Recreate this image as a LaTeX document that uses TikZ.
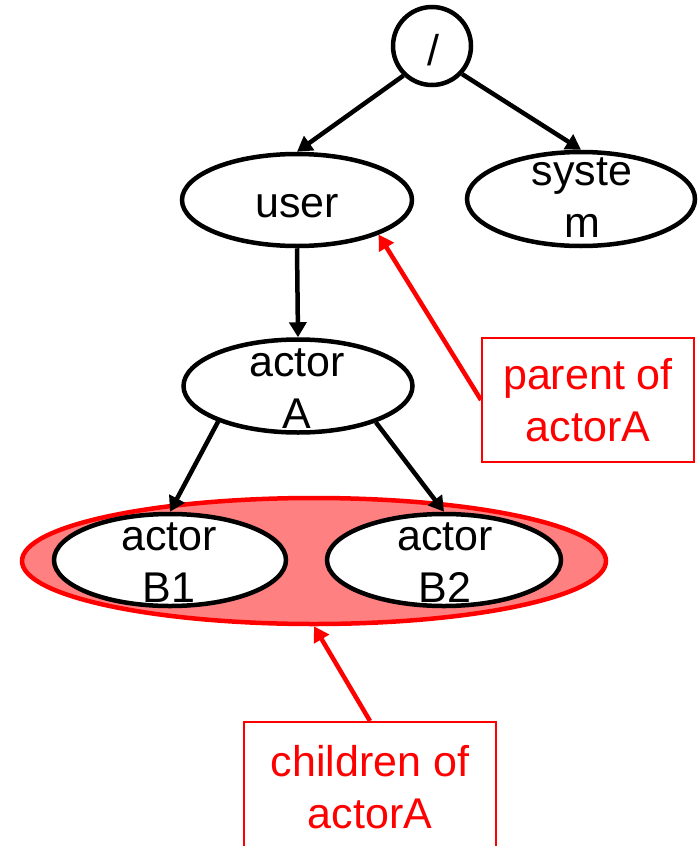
\documentclass[tikz,border=0pt]{standalone}
\usepackage{fontspec}
\setmainfont{Liberation Sans}
\usetikzlibrary{shapes.geometric,arrows.meta}
\definecolor{hlred}{HTML}{FF0000}
\definecolor{hlfill}{HTML}{FF8080}
\tikzset{
  lbl/.style={font=\fontsize{43}{52}\selectfont, align=center, inner sep=0pt},
  dirnode/.style={ellipse, draw=black, line width=4.5pt, fill=white, inner sep=0pt},
  arr/.style={line width=4.5pt, -{Triangle[length=15pt,width=17pt]}},
  redarr/.style={line width=4.5pt, draw=hlred, -{Triangle[length=15pt,width=17pt]}, color=hlred},
  notebox/.style={rectangle, draw=hlred, line width=2pt, text=hlred, fill=white,
    font=\fontsize{43}{52}\selectfont, align=center, inner sep=0pt},
}
\begin{document}
\begin{tikzpicture}[x=1pt,y=-1pt]
\useasboundingbox (0,0) rectangle (698,846);

% root directory
\node[circle, draw=black, line width=4.5pt, fill=white, minimum size=78pt, inner sep=0pt] (root) at (432,46) {};
\node[lbl] (roott) at (433,50) {/};

% first level
\node[dirnode, minimum width=230pt, minimum height=92pt] (user) at (297,200) {};
\node[lbl] (usert) at (297,206) {user};
\node[dirnode, minimum width=228pt, minimum height=94pt] (system) at (581,199) {};
\node[lbl] (systemt) at (582,198) {syste\\m};

% actor A
\node[dirnode, minimum width=229pt, minimum height=93pt] (actA) at (298,386) {};
\node[lbl] (actAt) at (297,389) {actor\\A};

% highlighted group of children
\node[ellipse, draw=hlred, fill=hlfill, line width=4.5pt, minimum width=584pt, minimum height=126pt, inner sep=0pt] (kids) at (314,561) {};
\node[dirnode, minimum width=232pt, minimum height=92pt] (b1) at (170,560) {};
\node[lbl] (b1t) at (169,563) {actor\\B1};
\node[dirnode, minimum width=234pt, minimum height=92pt] (b2) at (444,560) {};
\node[lbl] (b2t) at (445,563) {actor\\B2};

% tree edges
\draw[arr] (root.226) -- (user.north);
\draw[arr] (root.-43) -- (system.north);
\draw[arr] (user.south) -- (actA.north);
\draw[arr] (actA.204) -- (b1.north);
\draw[arr] (actA.-25) -- (b2.north);

% annotations
\node[notebox, minimum width=212pt, minimum height=124pt] (pbox) at (588,400) {parent of\\actorA};
\node[notebox, minimum width=252pt, minimum height=130pt] (cbox) at (370,787) {children of\\actorA};
\draw[redarr] (pbox.west) -- (user.-23);
\draw[redarr] (cbox.north) -- (kids.south);
\end{tikzpicture}
\end{document}
